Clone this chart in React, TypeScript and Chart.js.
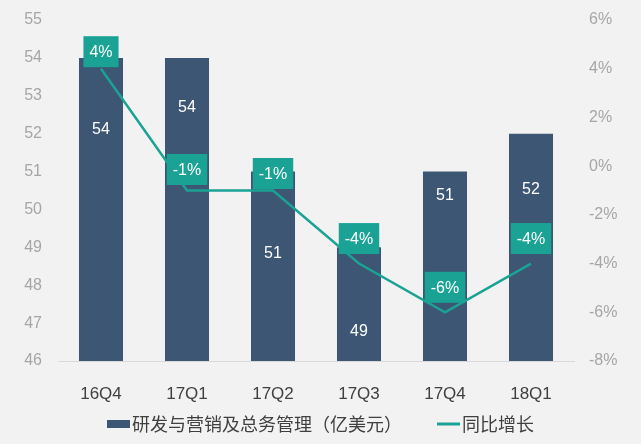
import React, { useEffect, useRef } from "react";
import { Chart, registerables } from "chart.js";

Chart.register(...registerables);

const categories = ["16Q4", "17Q1", "17Q2", "17Q3", "17Q4", "18Q1"];
const spending = [54, 54, 51, 49, 51, 52];
const growth = [4, -1, -1, -4, -6, -4];
const leftMin = 46;
const leftMax = 55;
const rightMin = -8;
const rightMax = 6;
const barLegend = "研发与营销及总务管理（亿美元）";
const lineLegend = "同比增长";

const BAR_COLOR = "#3c5673";
const TEAL = "#1aa394";
const W = 641;
const H = 444;

const labelPlugin = {
  id: "customLabels",
  afterDatasetsDraw(chart: any, _args: any, opts: any) {
    const ctx = chart.ctx;
    ctx.save();
    const barMeta = chart.getDatasetMeta(1);
    ctx.font = "16px 'Liberation Sans', Arial, sans-serif";
    ctx.fillStyle = "#ffffff";
    ctx.textAlign = "center";
    ctx.textBaseline = "middle";
    barMeta.data.forEach((el: any, i: number) => {
      ctx.fillText(String(spending[i]), el.x, el.y + opts.barOffsets[i]);
    });
    const lineMeta = chart.getDatasetMeta(0);
    lineMeta.data.forEach((pt: any, i: number) => {
      const txt = growth[i] + "%";
      const tw = ctx.measureText(txt).width;
      const bw = tw + 12;
      const bh = 31;
      const cy = pt.y - opts.lineOffsets[i];
      ctx.fillStyle = TEAL;
      ctx.fillRect(pt.x - bw / 2, cy - bh / 2, bw, bh);
      ctx.fillStyle = "#ffffff";
      ctx.fillText(txt, pt.x, cy + 1);
    });
    ctx.restore();
  },
  afterDraw(chart: any) {
    const ctx = chart.ctx;
    ctx.save();
    ctx.font = "18px 'Noto Sans CJK SC', sans-serif";
    ctx.textBaseline = "middle";
    ctx.textAlign = "left";
    const w1 = ctx.measureText(barLegend).width;
    const w2 = ctx.measureText(lineLegend).width;
    const total = 23 + 2 + w1 + 35 + 23 + 2 + w2;
    let x = (W - total) / 2;
    const y = 424;
    ctx.fillStyle = BAR_COLOR;
    ctx.fillRect(x, y - 4, 23, 8);
    x += 25;
    ctx.fillStyle = "#404040";
    ctx.fillText(barLegend, x, y);
    x += w1 + 35;
    ctx.strokeStyle = TEAL;
    ctx.lineWidth = 3;
    ctx.beginPath();
    ctx.moveTo(x, y);
    ctx.lineTo(x + 23, y);
    ctx.stroke();
    x += 25;
    ctx.fillStyle = "#404040";
    ctx.fillText(lineLegend, x, y);
    ctx.restore();
  },
};

const noPad = (s: any) => {
  s.paddingTop = 0;
  s.paddingBottom = 0;
};

export default function App() {
  const ref = useRef<HTMLCanvasElement>(null);
  useEffect(() => {
    document.body.style.margin = "0";
    const canvas = ref.current;
    if (!canvas) return;
    const chart = new Chart(canvas, {
      type: "bar",
      data: {
        labels: categories,
        datasets: [
          {
            type: "line",
            label: lineLegend,
            data: growth,
            yAxisID: "yR",
            borderColor: TEAL,
            borderWidth: 2.5,
            pointRadius: 0,
            tension: 0,
            order: 0,
          } as any,
          {
            type: "bar",
            label: barLegend,
            data: spending,
            yAxisID: "yL",
            backgroundColor: BAR_COLOR,
            barPercentage: 0.512,
            categoryPercentage: 1,
            order: 1,
          },
        ],
      },
      options: {
        responsive: false,
        animation: false,
        layout: { padding: { top: 20, bottom: 33, left: 0, right: 0 } },
        plugins: {
          legend: { display: false },
          tooltip: { enabled: false },
          customLabels: {
            barOffsets: [72, 50, 82, 84, 24, 56],
            lineOffsets: [17, 21, 17, 25, 25, 25],
          },
        } as any,
        scales: {
          x: {
            grid: { display: false, drawTicks: false },
            border: { display: true, color: "#d9d9d9", width: 1 },
            ticks: {
              color: "#404040",
              font: { size: 17, family: "'Liberation Sans', Arial, sans-serif" },
              padding: 23,
            },
            afterFit: (s: any) => {
              s.height = 50;
              s.paddingLeft = 0;
              s.paddingRight = 0;
            },
          },
          yL: {
            position: "left",
            min: leftMin,
            max: leftMax,
            grid: { display: false, drawTicks: false },
            border: { display: false },
            ticks: {
              stepSize: 1,
              color: "#a6a6a6",
              padding: 16,
              font: { size: 16, family: "'Liberation Sans', Arial, sans-serif" },
            },
            afterFit: (s: any) => {
              s.width = 58;
              noPad(s);
            },
          },
          yR: {
            position: "right",
            min: rightMin,
            max: rightMax,
            grid: { display: false, drawTicks: false },
            border: { display: false },
            ticks: {
              stepSize: 2,
              color: "#a6a6a6",
              padding: 15,
              font: { size: 16, family: "'Liberation Sans', Arial, sans-serif" },
              callback: (v: any) => v + "%",
            },
            afterFit: (s: any) => {
              s.width = 67;
              noPad(s);
            },
          },
        },
      },
      plugins: [labelPlugin],
    });
    return () => chart.destroy();
  }, []);
  return (
    <div style={{ width: W, height: H, background: "#f2f2f2" }}>
      <canvas ref={ref} width={W} height={H} style={{ width: W, height: H, display: "block" }} />
    </div>
  );
}
